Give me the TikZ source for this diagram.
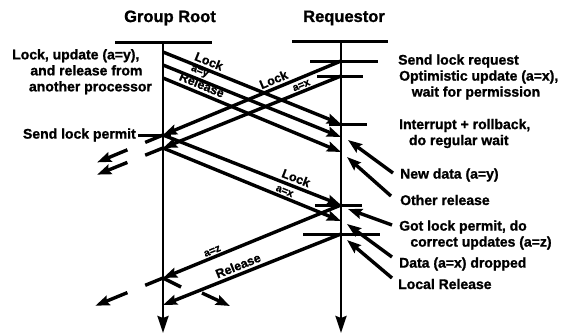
\documentclass[tikz,border=0pt]{standalone}
\usepackage{fontspec}
\setmainfont{Liberation Sans}[BoldFeatures={FakeBold=1.2}]
\usetikzlibrary{positioning,arrows.meta,calc}

\begin{document}
\begin{tikzpicture}[x=1pt, y=-1pt, >={Stealth[length=14pt,width=10pt,inset=2pt]},
    msg/.style={line width=3.4pt, ->},
    tline/.style={line width=2.6pt, -{Stealth[length=17pt,width=11pt,inset=2pt]}},
    tick/.style={line width=3pt},
    lbl/.style={font=\fontsize{14}{16}\selectfont\bfseries, align=left, inner sep=1pt},
    ttl/.style={font=\fontsize{16.5}{18}\selectfont\bfseries},
    tag/.style={font=\fontsize{12.5}{14}\selectfont\bfseries, sloped, above, inner sep=2.5pt},
    val/.style={font=\fontsize{10.5}{12}\selectfont\bfseries, sloped, above, inner sep=1.5pt}]

  \useasboundingbox (0,0) rectangle (566,333);

  % the two processors
  \node[ttl] (root) at (170,18) {Group Root};
  \node[ttl] (req) at (344,18) {Requestor};
  \coordinate (gtop) at (163,42);
  \coordinate (gend) at (163,333);
  \coordinate (rtop) at (341,41);
  \coordinate (rend) at (341,333);
  \draw[tick] ([xshift=-48pt]gtop) -- ([xshift=49pt]gtop);
  \draw[tick] ([xshift=-49pt]rtop) -- ([xshift=47pt]rtop);
  \draw[tline] (gtop) -- (gend);
  \draw[tline] (rtop) -- (rend);

  % events on the group root
  \coordinate (g1) at (163,52);
  \coordinate (g2) at (163,65);
  \coordinate (g3) at (163,78);
  \coordinate (g4) at (163,135);
  \coordinate (g5) at (163,148);
  \coordinate (g6) at (163,278);
  \coordinate (g7) at (163,305);

  % events on the requestor
  \coordinate (r1) at (341,61);
  \coordinate (r2) at (341,76);
  \coordinate (r3) at (341,124);
  \coordinate (r4) at (341,137);
  \coordinate (r5) at (341,152);
  \coordinate (r6) at (341,205);
  \coordinate (r7) at (341,221);
  \coordinate (r8) at (341,234);

  \draw[tick] ([xshift=-31pt]r1) -- ([xshift=37pt]r1);
  \draw[tick] ([xshift=-24pt]r2) -- ([xshift=22pt]r2);
  \draw[tick] ([xshift=-12pt]r3) -- ([xshift=26pt]r3);
  \draw[tick] ([xshift=-26pt]r6) -- ([xshift=21pt]r6);
  \draw[tick] ([xshift=-38pt]r8) -- ([xshift=39pt]r8);
  \draw[tick] ([xshift=-25pt]g4) -- ([xshift=8pt]g4);

  % messages
  \draw[msg] (g1) -- node[tag, pos=.24] {Lock} (r3);
  \draw[msg] (g2) -- node[val, pos=.19] {a=y} (r4);
  \draw[msg] (g3) -- node[tag, pos=.2] {Release} (r5);
  \draw[msg] (r1) -- node[tag, pos=.36] {Lock} (g4);
  \draw[msg] (r2) -- node[val, pos=.21] {a=x} (g5);
  \draw[msg] (g4) -- node[tag, pos=.73] {Lock} (r6);
  \draw[msg] (g5) -- node[val, pos=.67] {a=x} (r7);
  \draw[msg] (r6) -- node[val, pos=.71] {a=z} (g6);
  \draw[msg] (r8) -- node[tag, pos=.56] {Release} (g7);

  % forwarded to the other processors
  \coordinate (f1a) at ($(r1)!1.1!(g4)$);
  \coordinate (f1b) at ($(r1)!1.2!(g4)$);
  \coordinate (f1c) at ($(r1)!1.37!(g4)$);
  \coordinate (f2a) at ($(r2)!1.1!(g5)$);
  \coordinate (f2b) at ($(r2)!1.2!(g5)$);
  \coordinate (f2c) at ($(r2)!1.37!(g5)$);
  \coordinate (f3a) at ($(r6)!1.1!(g6)$);
  \coordinate (f3b) at ($(r6)!1.2!(g6)$);
  \coordinate (f3c) at ($(r6)!1.38!(g6)$);
  \draw[line width=3.4pt] (g4) -- (f1a);
  \draw[msg] (f1b) -- (f1c);
  \draw[line width=3.4pt] (g5) -- (f2a);
  \draw[msg] (f2b) -- (f2c);
  \draw[line width=3.4pt] (g6) -- (f3a);
  \draw[msg] (f3b) -- (f3c);
  \coordinate (f4a) at ([shift={(18,9)}]g6);
  \coordinate (f4b) at ([shift={(39,15)}]g6);
  \coordinate (f4c) at ([shift={(67,28)}]g6);
  \draw[line width=3.4pt] (g6) -- (f4a);
  \draw[msg] (f4b) -- (f4c);

  % left notes
  \node[lbl, anchor=north west] (other) at (11,48)
    {Lock, update (a=y),\\\hspace*{1.3em}and release from\\\hspace*{1.2em}another processor};
  \node[lbl, anchor=east] (permit) at (137,135) {Send lock permit};

  % right notes
  \node[lbl, anchor=west] (sendreq) at (397,61) {Send lock request};
  \node[lbl, anchor=west] (optupd) at (398,85) {Optimistic update (a=x),\\\hspace*{0.9em}wait for permission};
  \node[lbl, anchor=west] (interr) at (398,133.5) {Interrupt + rollback,\\\hspace*{0.7em}do regular wait};
  \node[lbl, anchor=west] (newdata) at (399,175) {New data (a=y)};
  \node[lbl, anchor=west] (othrel) at (399,200) {Other release};
  \node[lbl, anchor=west] (gotlock) at (398,235) {Got lock permit, do\\\hspace*{0.8em}correct updates (a=z)};
  \node[lbl, anchor=west] (dropped) at (398,264) {Data (a=x) dropped};
  \node[lbl, anchor=west] (locrel) at (397,284) {Local Release};

  \draw[msg] ([shift={(-6,-2)}]newdata.west) -- ([shift={(7,3)}]r4);
  \draw[msg] ([shift={(-8,-4)}]othrel.west) -- ([shift={(6,5)}]r5);
  \draw[msg] ([shift={(-6,-10)}]gotlock.west) -- ([shift={(7,4)}]r6);
  \draw[msg] ([shift={(-6,-7)}]dropped.west) -- ([shift={(6,3)}]r7);
  \draw[msg] ([shift={(-5,-6)}]locrel.west) -- ([shift={(6,6)}]r8);
\end{tikzpicture}
\end{document}
